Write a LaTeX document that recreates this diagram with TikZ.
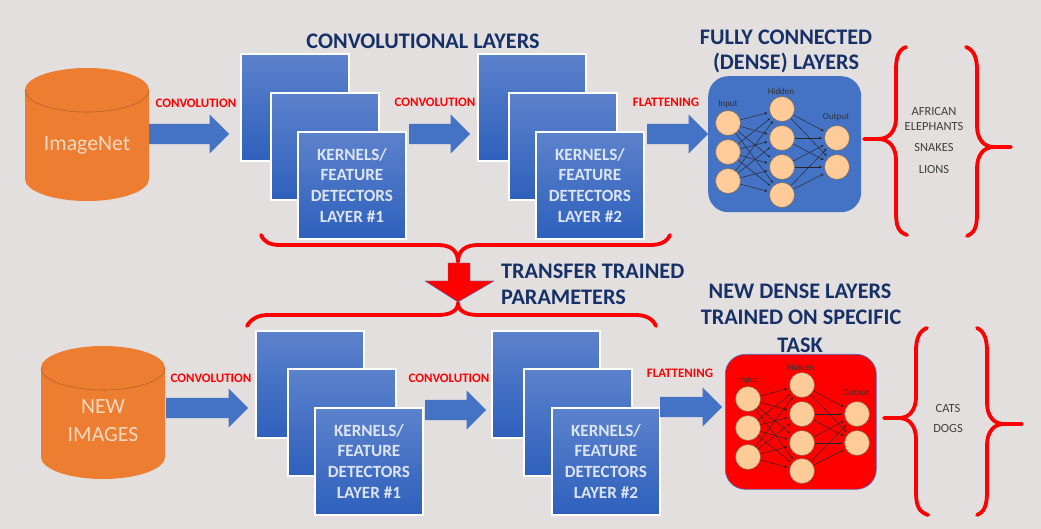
\documentclass[tikz,border=0pt]{standalone}
\usepackage{fontspec}
\setmainfont{Carlito}
\usetikzlibrary{shapes.arrows,arrows.meta,shadows}
\definecolor{bgc}{HTML}{E3DFDF}
\definecolor{navyt}{HTML}{163068}
\definecolor{blueb}{HTML}{4472C4}
\definecolor{oran}{HTML}{ED7D31}
\definecolor{orand}{HTML}{B9602A}
\definecolor{peach}{HTML}{FFCC99}
\definecolor{redt}{HTML}{FF0000}
\definecolor{greyt}{HTML}{404040}
\definecolor{boxtop}{HTML}{5C82CC}
\definecolor{boxbot}{HTML}{2E60BC}
\definecolor{boxtext}{HTML}{DDE5F5}
\definecolor{dbtext}{HTML}{F6D9C2}
\definecolor{neuronline}{HTML}{7F6A50}
\tikzset{
  x=1bp,y=-1bp,
  layerbox/.style={anchor=north west,minimum width=108bp,minimum height=107bp,inner sep=0pt,
    draw=white,line width=1.8bp,top color=boxtop,bottom color=boxbot,
    drop shadow={opacity=.3,shadow xshift=1bp,shadow yshift=-1.5bp},
    text=boxtext,align=center,font=\fontsize{17.2}{21}\selectfont\bfseries},
  blockarrow/.style={single arrow,anchor=west,fill=blueb,inner xsep=0pt,inner ysep=10bp,minimum width=39bp,
    single arrow head extend=9.5bp,single arrow head indent=0pt,minimum height=#1},
  dblabel/.style={text=dbtext,font=\fontsize{21.8}{28}\selectfont,align=center,inner sep=0pt},
  dbtop/.style={draw=orand,line width=.6bp},
  redlabel/.style={text=redt,font=\fontsize{13}{15}\selectfont\bfseries,inner sep=0pt},
  title/.style={text=navyt,font=\fontsize{22.3}{25}\selectfont\bfseries,inner sep=0pt},
  outlabel/.style={text=greyt,font=\fontsize{12.5}{14}\selectfont,inner sep=0pt},
  panel/.style={anchor=north west,rounded corners=20bp,inner sep=0pt,minimum width=153bp,minimum height=136bp},
  neuron/.style={circle,draw=neuronline,line width=.5bp,fill=peach,minimum size=25bp,inner sep=0pt},
  nnlabel/.style={text=black!80,font=\fontsize{9}{10}\selectfont,inner sep=0pt},
  nnedge/.style={draw=black!85,line width=.45bp,-{Stealth[length=2.6bp,width=2.8bp]},shorten >=2.5bp},
  redbrace/.style={draw=redt,line width=3.8bp,line cap=round,fill=none},
}
\newcommand{\layerstack}[8]{%
  \node[layerbox] (#1a) at (#2,#5) {};
  \node[layerbox] (#1b) at (#3,#6) {};
  \node[layerbox] (#1c) at (#4,#7) {KERNELS/\\FEATURE\\DETECTORS\\#8};
}
\newcommand{\dbshape}[2]{% left x, top-ellipse centre y
  \fill[oran] (#1,#2) arc[start angle=180,end angle=360,x radius=62,y radius=22]
     -- ++(0,89) arc[start angle=0,end angle=180,x radius=62,y radius=22] -- cycle;
  \draw[dbtop] (#1,#2) arc[start angle=180,end angle=0,x radius=62,y radius=22];
}
\newcommand{\network}[3]{% prefix, dx, dy
  \begin{scope}[shift={(#2,#3)}]
  \node[neuron] (#1i1) at (728,123) {};
  \node[neuron] (#1i2) at (728,152) {};
  \node[neuron] (#1i3) at (728,181) {};
  \node[neuron] (#1h1) at (782,109) {};
  \node[neuron] (#1h2) at (782,138) {};
  \node[neuron] (#1h3) at (782,167) {};
  \node[neuron] (#1h4) at (782,195) {};
  \node[neuron] (#1o1) at (837,138) {};
  \node[neuron] (#1o2) at (837,167) {};
  \foreach \a in {1,2,3} \foreach \b in {1,2,3,4} \draw[nnedge] (#1i\a) -- (#1h\b);
  \foreach \a in {1,2,3,4} \foreach \b in {1,2} \draw[nnedge] (#1h\a) -- (#1o\b);
  \node[nnlabel] (#1li) at (728,104) {Input};
  \node[nnlabel] (#1lh) at (781,91) {Hidden};
  \node[nnlabel] (#1lo) at (836,117) {Output};
  \end{scope}
}
\begin{document}
\begin{tikzpicture}
\useasboundingbox[fill=bgc] (0,0) rectangle (1041,529);

% databases
\dbshape{25}{90}
\node[dblabel] (db1) at (87,145) {ImageNet};
\dbshape{41}{368}
\node[dblabel] (db2) at (103,421) {NEW\\IMAGES};

% stacks
\layerstack{s}{240}{270}{297}{53}{92}{131}{LAYER \#1}
\layerstack{t}{477}{508}{535}{53}{92}{131}{LAYER \#2}
\layerstack{u}{255}{287}{314}{330}{368}{407}{LAYER \#1}
\layerstack{v}{491}{523}{551}{330}{368}{407}{LAYER \#2}

% block arrows
\node[blockarrow=80bp] (a1) at (149,134) {};
\node[blockarrow=61bp] (a2) at (409,134) {};
\node[blockarrow=61bp] (a3) at (647,134) {};
\node[blockarrow=82bp] (b1) at (166,408) {};
\node[blockarrow=61bp] (b2) at (425,410) {};
\node[blockarrow=62bp] (b3) at (660,407) {};

% arrow labels
\node[redlabel] (l1) at (196,103) {CONVOLUTION};
\node[redlabel] (l2) at (435,102) {CONVOLUTION};
\node[redlabel] (l3) at (666,102) {FLATTENING};
\node[redlabel] (l4) at (211,378) {CONVOLUTION};
\node[redlabel] (l5) at (449,378) {CONVOLUTION};
\node[redlabel] (l6) at (680,373) {FLATTENING};

% titles
\node[title] (t1) at (423,41) {CONVOLUTIONAL LAYERS};
\node[title] (t2) at (786,37) {FULLY CONNECTED};
\node[title] (t3) at (786,63) {(DENSE) LAYERS};
\node[title,anchor=west] (t4) at (501,271) {TRANSFER TRAINED};
\node[title,anchor=west] (t5) at (501,297) {PARAMETERS};
\node[title] (t6) at (800,291) {NEW DENSE LAYERS};
\node[title] (t7) at (801,317) {TRAINED ON SPECIFIC};
\node[title] (t8) at (800,345) {TASK};

% network panels
\node[panel,fill=blueb] (p1) at (708,76) {};
\network{n}{0}{0}
\node[panel,fill=redt,draw=blueb,line width=.6bp,minimum width=151bp,minimum height=135bp] (p2) at (725,354) {};
\network{m}{20}{276}

% output lists
\node[outlabel] (o1) at (934,112) {AFRICAN};
\node[outlabel] (o2) at (934,127) {ELEPHANTS};
\node[outlabel] (o3) at (934,148) {SNAKES};
\node[outlabel] (o4) at (934,170) {LIONS};
\node[outlabel] (o5) at (948,409) {CATS};
\node[outlabel] (o6) at (948,429) {DOGS};

% right braces
\draw[redbrace] (906,47) .. controls (898,50) and (896,58) .. (896,70) -- (896,118)
  .. controls (896,130) and (890,139) .. (878,139) -- (864,139)
  (878,139) .. controls (890,139) and (896,148) .. (896,160) -- (896,212)
  .. controls (896,226) and (898,232) .. (907,235);
\draw[redbrace] (966,47) .. controls (974,50) and (977,58) .. (977,70) -- (977,126)
  .. controls (977,138) and (983,147) .. (994,147) -- (1011,147)
  (994,147) .. controls (983,147) and (977,156) .. (977,168) -- (977,214)
  .. controls (977,228) and (974,233) .. (967,236);
\draw[redbrace] (927,328) .. controls (919,331) and (916,339) .. (916,351) -- (916,397)
  .. controls (916,409) and (910,418) .. (899,418) -- (884,418)
  (899,418) .. controls (910,418) and (916,427) .. (916,439) -- (916,492)
  .. controls (916,506) and (919,512) .. (928,515);
\draw[redbrace] (977,328) .. controls (984,331) and (987,339) .. (987,351) -- (987,403)
  .. controls (987,415) and (993,424) .. (1004,424) -- (1022,424)
  (1004,424) .. controls (993,424) and (987,433) .. (987,445) -- (987,492)
  .. controls (987,506) and (984,512) .. (977,515);

% horizontal braces
\draw[redbrace] (261,235) .. controls (264,242) and (270,245) .. (280,245) -- (438,245)
  .. controls (450,245) and (458,250) .. (458,262)
  (458,262) .. controls (458,250) and (466,245) .. (478,245) -- (650,245)
  .. controls (660,245) and (667,242) .. (670,235);
\draw[redbrace] (247,326) .. controls (251,319) and (258,315) .. (268,315) -- (438,315)
  .. controls (450,315) and (458,311) .. (458,303)
  (458,303) .. controls (458,311) and (466,315) .. (478,315) -- (636,315)
  .. controls (646,315) and (653,319) .. (656,326);

% transfer arrow
\fill[redt,draw=blueb,line width=.4bp] (448,263) -- (470,263) -- (470,281) -- (494,281) -- (458,302) -- (425,281) -- (448,281) -- cycle;
\end{tikzpicture}
\end{document}
